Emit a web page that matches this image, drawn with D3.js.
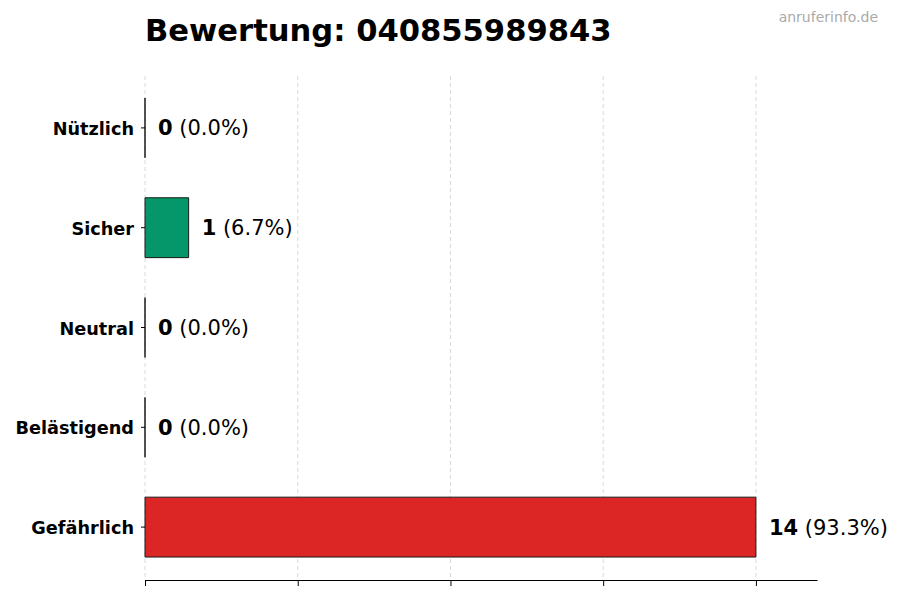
<!DOCTYPE html>
<html>
<head>
<meta charset="utf-8">
<script src="https://cdn.jsdelivr.net/npm/d3@7"></script>
<style>
  body { margin: 0; background: #fff; }
  svg { font-family: "DejaVu Sans", sans-serif; }
</style>
</head>
<body>
<svg id="chart" width="900" height="600"></svg>
<script>
const categories = ["Nützlich", "Sicher", "Neutral", "Belästigend", "Gefährlich"];
const counts = [0, 1, 0, 0, 14];
const percents = ["0.0%", "6.7%", "0.0%", "0.0%", "93.3%"];
const barColors = ["#2563eb", "#059669", "#6b7280", "#d97706", "#dc2626"];
const xTicks = [0, 3.5, 7, 10.5, 14];

const svg = d3.select("#chart");
const plotLeft = 145, plotRight = 817, plotTop = 76, plotBottom = 580;

const x = d3.scaleLinear()
    .domain([0, d3.max(counts) * 1.1])
    .range([plotLeft, plotRight]);

const y = d3.scaleBand()
    .domain(categories)
    .range([78, 577])
    .paddingInner(0.4)
    .paddingOuter(0.2);

// grid
svg.append("g")
    .selectAll("line")
    .data(xTicks)
    .join("line")
    .attr("x1", d => x(d)).attr("x2", d => x(d))
    .attr("y1", plotTop).attr("y2", plotBottom)
    .attr("stroke", "#d0d0d0")
    .attr("stroke-width", 0.8)
    .attr("stroke-dasharray", "4,3");

// bars (paths so zero-width bars still show their edge)
svg.append("g")
    .selectAll("path")
    .data(categories)
    .join("path")
    .attr("d", (c, i) => {
        const x0 = x(0), x1 = x(counts[i]), y0 = y(c), y1 = y(c) + y.bandwidth();
        return `M${x0},${y0}H${x1}V${y1}H${x0}Z`;
    })
    .attr("fill", (_, i) => barColors[i])
    .attr("stroke", "#1a1a1a")
    .attr("stroke-width", 1);

// value labels
const lab = svg.append("g")
    .selectAll("text")
    .data(categories)
    .join("text")
    .attr("x", (_, i) => x(counts[i]) + 13)
    .attr("y", c => y(c) + y.bandwidth() / 2)
    .attr("dy", "0.36em")
    .attr("font-size", 21);
lab.append("tspan").attr("font-weight", "bold").text((_, i) => counts[i]);
lab.append("tspan").text((_, i) => ` (${percents[i]})`);

// y axis (no spine)
const yAxis = svg.append("g")
    .attr("transform", `translate(${plotLeft},0)`)
    .call(d3.axisLeft(y).tickSize(4).tickPadding(7));
yAxis.select(".domain").remove();
yAxis.selectAll("text")
    .attr("font-size", 17.7)
    .attr("font-weight", "bold")
    .attr("fill", "#000")
    .attr("dy", "0.4em")
    .attr("font-family", "DejaVu Sans");
yAxis.selectAll("line").attr("stroke", "#000");

// x axis, no labels
const xAxis = svg.append("g")
    .attr("transform", `translate(0,${plotBottom})`)
    .call(d3.axisBottom(x).tickValues(xTicks).tickSize(6).tickSizeOuter(0).tickFormat(""));
xAxis.select(".domain").attr("stroke", "#000");
xAxis.selectAll("line").attr("stroke", "#000");

// title + watermark
svg.append("text")
    .attr("x", plotLeft).attr("y", 41)
    .attr("font-size", 30.6)
    .attr("font-weight", "bold")
    .text("Bewertung: 040855989843");

svg.append("text")
    .attr("x", 878).attr("y", 22)
    .attr("text-anchor", "end")
    .attr("font-size", 14)
    .attr("fill", "#aaaaaa")
    .text("anruferinfo.de");
</script>
</body>
</html>
